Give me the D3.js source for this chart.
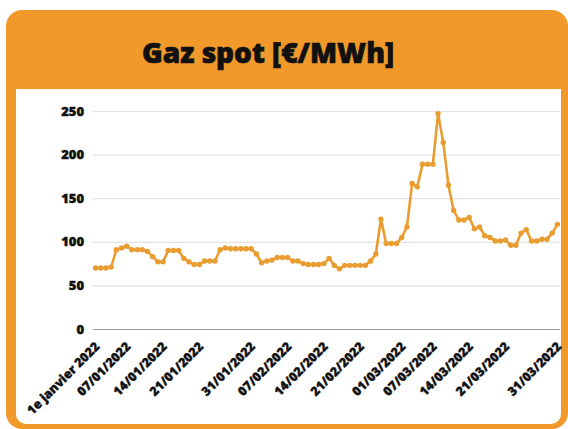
<!DOCTYPE html>
<html>
<head>
<meta charset="utf-8">
<script src="https://cdn.jsdelivr.net/npm/d3@7"></script>
<style>
  body { margin: 0; background: #fff; }
  svg { display: block; font-family: 'Open Sans', sans-serif; }
</style>
</head>
<body>
<div id="chart"></div>
<script>
// data, one value per day from 1 Jan to 31 Mar 2022
// -----------------------------------------------
const days = d3.timeDays(new Date(2022, 0, 1), new Date(2022, 3, 1));

const prices = [
  70, 70, 70, 71, 91, 93, 95, 91, 91, 91,
  89, 83, 77, 77, 90, 90, 90, 81, 77, 74,
  74, 78, 78, 78, 91, 93, 92, 92, 92, 92,
  92, 86, 76, 78, 79, 82, 82, 82, 78, 78,
  75, 74, 74, 74, 75, 81, 73, 69, 73, 73,
  73, 73, 73, 78, 86, 126, 98, 98, 98, 105,
  117, 167, 163, 189, 189, 189, 247, 214, 165, 136,
  125, 125, 128, 115, 117, 107, 105, 101, 101, 102,
  96, 96, 110, 114, 101, 101, 103, 103, 110, 120
];

const tickDays = ['2022-01-01', '2022-01-07', '2022-01-14', '2022-01-21', '2022-01-31',
  '2022-02-07', '2022-02-14', '2022-02-21', '2022-03-01', '2022-03-07',
  '2022-03-14', '2022-03-21', '2022-03-31'];
const tickLabels = ['1e janvier 2022', '07/01/2022', '14/01/2022', '21/01/2022', '31/01/2022',
  '07/02/2022', '14/02/2022', '21/02/2022', '01/03/2022', '07/03/2022',
  '14/03/2022', '21/03/2022', '31/03/2022'];

const yTicks = [0, 50, 100, 150, 200, 250];
const title = 'Gaz spot [€/MWh]';

// -----------------------------------------------
const width = 568, height = 429;
const plot = { left: 93, right: 560, top: 111, bottom: 329 };
const orange = '#F19A2B', lineColor = '#E99C30';
const fmt = d3.timeFormat('%Y-%m-%d');

const data = days.map((d, i) => ({ key: fmt(d), value: prices[i] }));

const svg = d3.select('#chart').append('svg')
  .attr('width', width)
  .attr('height', height);

// card
svg.append('rect')
  .attr('x', 6).attr('y', 10)
  .attr('width', 562).attr('height', 419)
  .attr('rx', 16)
  .attr('fill', orange);

svg.append('rect')
  .attr('x', 16).attr('y', 89)
  .attr('width', 545).attr('height', 335)
  .attr('rx', 10)
  .attr('fill', '#fff');
svg.append('rect') // square top corners
  .attr('x', 16).attr('y', 89)
  .attr('width', 545).attr('height', 40)
  .attr('fill', '#fff');

// heavy title (stroke thickens the bold face)
svg.append('text')
  .attr('x', 268).attr('y', 63)
  .attr('text-anchor', 'middle')
  .attr('font-size', 28)
  .attr('font-weight', 800)
  .attr('fill', '#111')
  .attr('stroke', '#111')
  .attr('stroke-width', 0.7)
  .text(title);

// scales (points at band centers)
const x = d3.scalePoint()
  .domain(data.map(d => d.key))
  .range([plot.left, plot.right])
  .padding(0.5);

const y = d3.scaleLinear()
  .domain([0, 250])
  .range([plot.bottom, plot.top]);

// grid + y labels
const gy = svg.append('g')
  .attr('transform', `translate(${plot.left},0)`)
  .call(d3.axisLeft(y).tickValues(yTicks).tickSize(-(plot.right - plot.left)).tickPadding(9))
  .call(g => g.select('.domain').remove());
gy.selectAll('.tick line')
  .attr('stroke', d => d === 0 ? '#9a9a9a' : '#e3e3e3')
  .attr('stroke-width', 1.2);
gy.selectAll('.tick text')
  .attr('font-family', "'Open Sans', sans-serif")
  .attr('font-size', 13)
  .attr('font-weight', 800)
  .attr('fill', '#111')
  .attr('stroke', '#111')
  .attr('stroke-width', 0.4);

// x labels, rotated
const gx = svg.append('g')
  .attr('transform', `translate(0,${plot.bottom})`)
  .call(d3.axisBottom(x)
    .tickValues(tickDays)
    .tickFormat((d, i) => tickLabels[i])
    .tickSize(0))
  .call(g => g.select('.domain').remove());
gx.selectAll('.tick text')
  .attr('font-family', "'Open Sans', sans-serif")
  .attr('font-size', 12.5)
  .attr('font-weight', 800)
  .attr('fill', '#111')
  .attr('stroke', '#111')
  .attr('stroke-width', 0.35)
  .attr('text-anchor', 'end')
  .attr('y', 0)
  .attr('dx', '-10px')
  .attr('dy', '16px')
  .attr('transform', 'rotate(-45)');

// line + markers
svg.append('path')
  .datum(data)
  .attr('fill', 'none')
  .attr('stroke', lineColor)
  .attr('stroke-width', 2.6)
  .attr('stroke-linejoin', 'round')
  .attr('d', d3.line().x(d => x(d.key)).y(d => y(d.value)));

svg.append('g')
  .attr('fill', lineColor)
  .selectAll('circle')
  .data(data)
  .join('circle')
  .attr('cx', d => x(d.key))
  .attr('cy', d => y(d.value))
  .attr('r', 2.7);
</script>
</body>
</html>
